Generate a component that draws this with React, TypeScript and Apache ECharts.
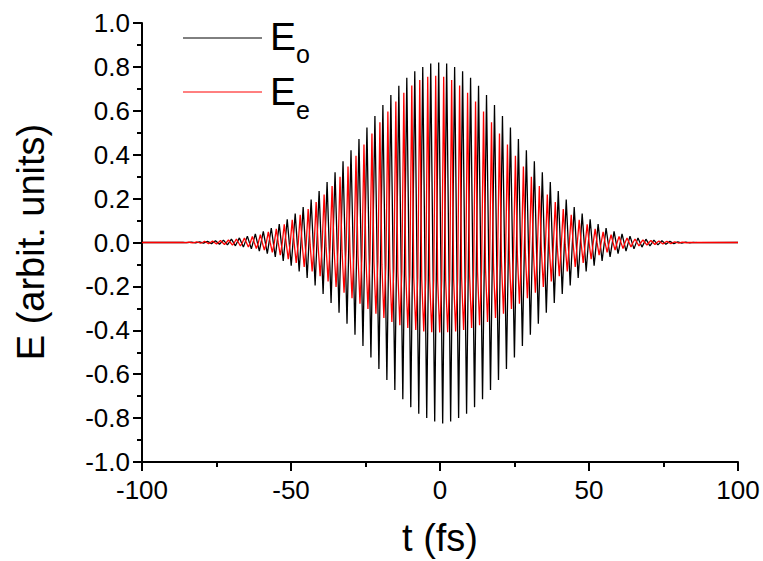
import React, { useEffect, useRef } from "react";
import * as echarts from "echarts";

// Carrier timing (fs)
const T0 = -0.44; // time of the tallest E_o crest
const PERIOD = 2.675; // optical period
const RED_SHIFT = -1.0; // E_e crests lead E_o crests

// Crest heights of E_o, one per optical cycle
const blackPeak = [
  0.001, 0.002, 0.003, 0.005, 0.008, 0.011, 0.015, 0.021, 0.029, 0.039, 0.051, 0.066, 0.084,
  0.106, 0.132, 0.162, 0.196, 0.234, 0.275, 0.32, 0.37, 0.42, 0.472, 0.524, 0.576, 0.626,
  0.672, 0.714, 0.75, 0.78, 0.8, 0.815, 0.82, 0.815, 0.8, 0.78, 0.75, 0.714, 0.672, 0.626,
  0.576, 0.524, 0.472, 0.42, 0.37, 0.32, 0.275, 0.234, 0.196, 0.162, 0.132, 0.106, 0.084,
  0.066, 0.051, 0.039, 0.029, 0.021, 0.015, 0.011, 0.008, 0.005, 0.003, 0.002, 0.001,
];
// Trough depths of E_o, one per optical cycle
const blackTrough = [
  0.001, 0.002, 0.003, 0.005, 0.008, 0.011, 0.015, 0.021, 0.029, 0.039, 0.051, 0.066, 0.084,
  0.106, 0.132, 0.162, 0.196, 0.234, 0.275, 0.32, 0.37, 0.42, 0.472, 0.524, 0.576, 0.626,
  0.672, 0.714, 0.75, 0.78, 0.8, 0.815, 0.825, 0.815, 0.8, 0.78, 0.75, 0.714, 0.672, 0.626,
  0.576, 0.524, 0.472, 0.42, 0.37, 0.32, 0.275, 0.234, 0.196, 0.162, 0.132, 0.106, 0.084,
  0.066, 0.051, 0.039, 0.029, 0.021, 0.015, 0.011, 0.008, 0.005, 0.003, 0.002, 0.001,
];
// Crest heights of E_e, one per optical cycle
const redPeak = [
  0.001, 0.002, 0.003, 0.005, 0.007, 0.009, 0.012, 0.016, 0.021, 0.028, 0.036, 0.048, 0.062,
  0.083, 0.103, 0.126, 0.153, 0.184, 0.218, 0.257, 0.3, 0.346, 0.395, 0.446, 0.497, 0.548,
  0.597, 0.642, 0.682, 0.715, 0.74, 0.755, 0.76, 0.755, 0.74, 0.715, 0.682, 0.642, 0.597,
  0.548, 0.497, 0.446, 0.395, 0.346, 0.3, 0.257, 0.218, 0.184, 0.153, 0.126, 0.103, 0.083,
  0.062, 0.048, 0.036, 0.028, 0.021, 0.016, 0.012, 0.009, 0.007, 0.005, 0.003, 0.002, 0.001,
];
// Trough depths of E_e (flat, shallow troughs), one per optical cycle
const redTrough = [
  0.001, 0.002, 0.003, 0.005, 0.007, 0.009, 0.012, 0.016, 0.021, 0.027, 0.035, 0.045, 0.058,
  0.076, 0.093, 0.111, 0.132, 0.154, 0.178, 0.203, 0.229, 0.254, 0.279, 0.303, 0.325, 0.344,
  0.362, 0.377, 0.389, 0.398, 0.405, 0.409, 0.41, 0.409, 0.405, 0.398, 0.389, 0.377, 0.362,
  0.344, 0.325, 0.303, 0.279, 0.254, 0.229, 0.203, 0.178, 0.154, 0.132, 0.111, 0.093, 0.076,
  0.058, 0.045, 0.035, 0.027, 0.021, 0.016, 0.012, 0.009, 0.007, 0.005, 0.003, 0.002, 0.001,
];
// E_e level a quarter cycle from each crest (where the broad trough begins)
const redQuarter = [
  0, 0, 0, 0, 0, 0, 0, 0, 0, 0.001, 0.001, 0.002, 0.002, 0.004, 0.005, 0.008, 0.011, 0.015,
  0.02, 0.027, 0.036, 0.046, 0.058, 0.072, 0.086, 0.102, 0.118, 0.133, 0.147, 0.159, 0.168,
  0.173, 0.175, 0.173, 0.168, 0.159, 0.147, 0.133, 0.118, 0.102, 0.086, 0.072, 0.058, 0.046,
  0.036, 0.027, 0.02, 0.015, 0.011, 0.008, 0.005, 0.004, 0.002, 0.002, 0.001, 0.001, 0, 0, 0,
  0, 0, 0, 0, 0, 0,
];

const X_MIN = -100;
const X_MAX = 100;
const Y_MIN = -1;
const Y_MAX = 1;

const FONT = "'Liberation Sans', Arial, Helvetica, sans-serif";

function buildBlack(): number[][] {
  const n = blackPeak.length;
  const mid = (n - 1) / 2;
  const pts: number[][] = [[X_MIN, 0]];
  for (let i = 0; i < n; i++) {
    const t = T0 + (i - mid) * PERIOD;
    pts.push([t, blackPeak[i]]);
    pts.push([t + PERIOD / 2, -blackTrough[i]]);
  }
  pts.push([X_MAX, 0]);
  return pts;
}

function buildRed(): number[][] {
  const n = redPeak.length;
  const mid = (n - 1) / 2;
  const pts: number[][] = [[X_MIN, 0]];
  for (let i = 0; i < n; i++) {
    const t = T0 + RED_SHIFT + (i - mid) * PERIOD;
    pts.push([t, redPeak[i]]);
    pts.push([t + PERIOD / 4, -redQuarter[i]]);
    pts.push([t + PERIOD / 2, -redTrough[i]]);
    pts.push([t + (3 * PERIOD) / 4, -redQuarter[i]]);
  }
  pts.push([X_MAX, 0]);
  return pts;
}

export default function App() {
  const ref = useRef<HTMLDivElement>(null);
  useEffect(() => {
    if (!ref.current) return;
    const chart = echarts.init(ref.current, undefined, { renderer: "svg" });
    chart.setOption({
      animation: false,
      backgroundColor: "#ffffff",
      grid: { left: 142, right: 25, top: 23, bottom: 99 },
      xAxis: {
        type: "value",
        min: X_MIN,
        max: X_MAX,
        interval: 50,
        axisLine: { onZero: false, lineStyle: { color: "#000", width: 2 } },
        axisTick: { show: true, length: 9, lineStyle: { color: "#000", width: 2 } },
        minorTick: { show: true, splitNumber: 2, length: 5, lineStyle: { color: "#000", width: 2 } },
        splitLine: { show: false },
        axisLabel: { color: "#000", fontSize: 26, fontFamily: FONT, margin: 15 },
      },
      yAxis: {
        type: "value",
        min: Y_MIN,
        max: Y_MAX,
        interval: 0.2,
        axisLine: { onZero: false, lineStyle: { color: "#000", width: 2 } },
        axisTick: { show: true, length: 9, lineStyle: { color: "#000", width: 2 } },
        minorTick: { show: true, splitNumber: 2, length: 5, lineStyle: { color: "#000", width: 2 } },
        splitLine: { show: false },
        axisLabel: {
          color: "#000",
          fontSize: 26,
          fontFamily: FONT,
          margin: 12,
          formatter: (v: number) => v.toFixed(1),
        },
      },
      series: [
        {
          name: "Eo",
          type: "line",
          data: buildBlack(),
          showSymbol: false,
          symbol: "none",
          lineStyle: { color: "#000000", width: 1.3 },
          z: 2,
        },
        {
          name: "Ee",
          type: "line",
          data: buildRed(),
          showSymbol: false,
          symbol: "none",
          lineStyle: { color: "#ff0000", width: 1.3 },
          z: 3,
        },
      ],
      graphic: [
        {
          type: "line",
          shape: { x1: 183, y1: 38, x2: 262, y2: 38 },
          style: { stroke: "#000", lineWidth: 1 },
        },
        {
          type: "text",
          x: 270,
          y: 36,
          style: { text: "E", fontSize: 39, fontFamily: FONT, fill: "#000", align: "left", verticalAlign: "middle" },
        },
        {
          type: "text",
          x: 296,
          y: 54,
          style: { text: "o", fontSize: 25, fontFamily: FONT, fill: "#000", align: "left", verticalAlign: "middle" },
        },
        {
          type: "line",
          shape: { x1: 183, y1: 92, x2: 262, y2: 92 },
          style: { stroke: "#ff0000", lineWidth: 1 },
        },
        {
          type: "text",
          x: 270,
          y: 91,
          style: { text: "E", fontSize: 39, fontFamily: FONT, fill: "#000", align: "left", verticalAlign: "middle" },
        },
        {
          type: "text",
          x: 296,
          y: 110,
          style: { text: "e", fontSize: 25, fontFamily: FONT, fill: "#000", align: "left", verticalAlign: "middle" },
        },
        {
          type: "text",
          x: 440,
          y: 538,
          style: { text: "t (fs)", fontSize: 38, fontFamily: FONT, fill: "#000", align: "center", verticalAlign: "middle" },
        },
        {
          type: "text",
          x: 31,
          y: 242,
          rotation: Math.PI / 2,
          style: {
            text: "E (arbit. units)",
            fontSize: 38,
            fontFamily: FONT,
            fill: "#000",
            align: "center",
            verticalAlign: "middle",
          },
        },
      ],
    });
    return () => chart.dispose();
  }, []);
  return (
    <div
      ref={ref}
      style={{ position: "fixed", left: 0, top: 0, width: 763, height: 561, background: "#fff" }}
    />
  );
}
